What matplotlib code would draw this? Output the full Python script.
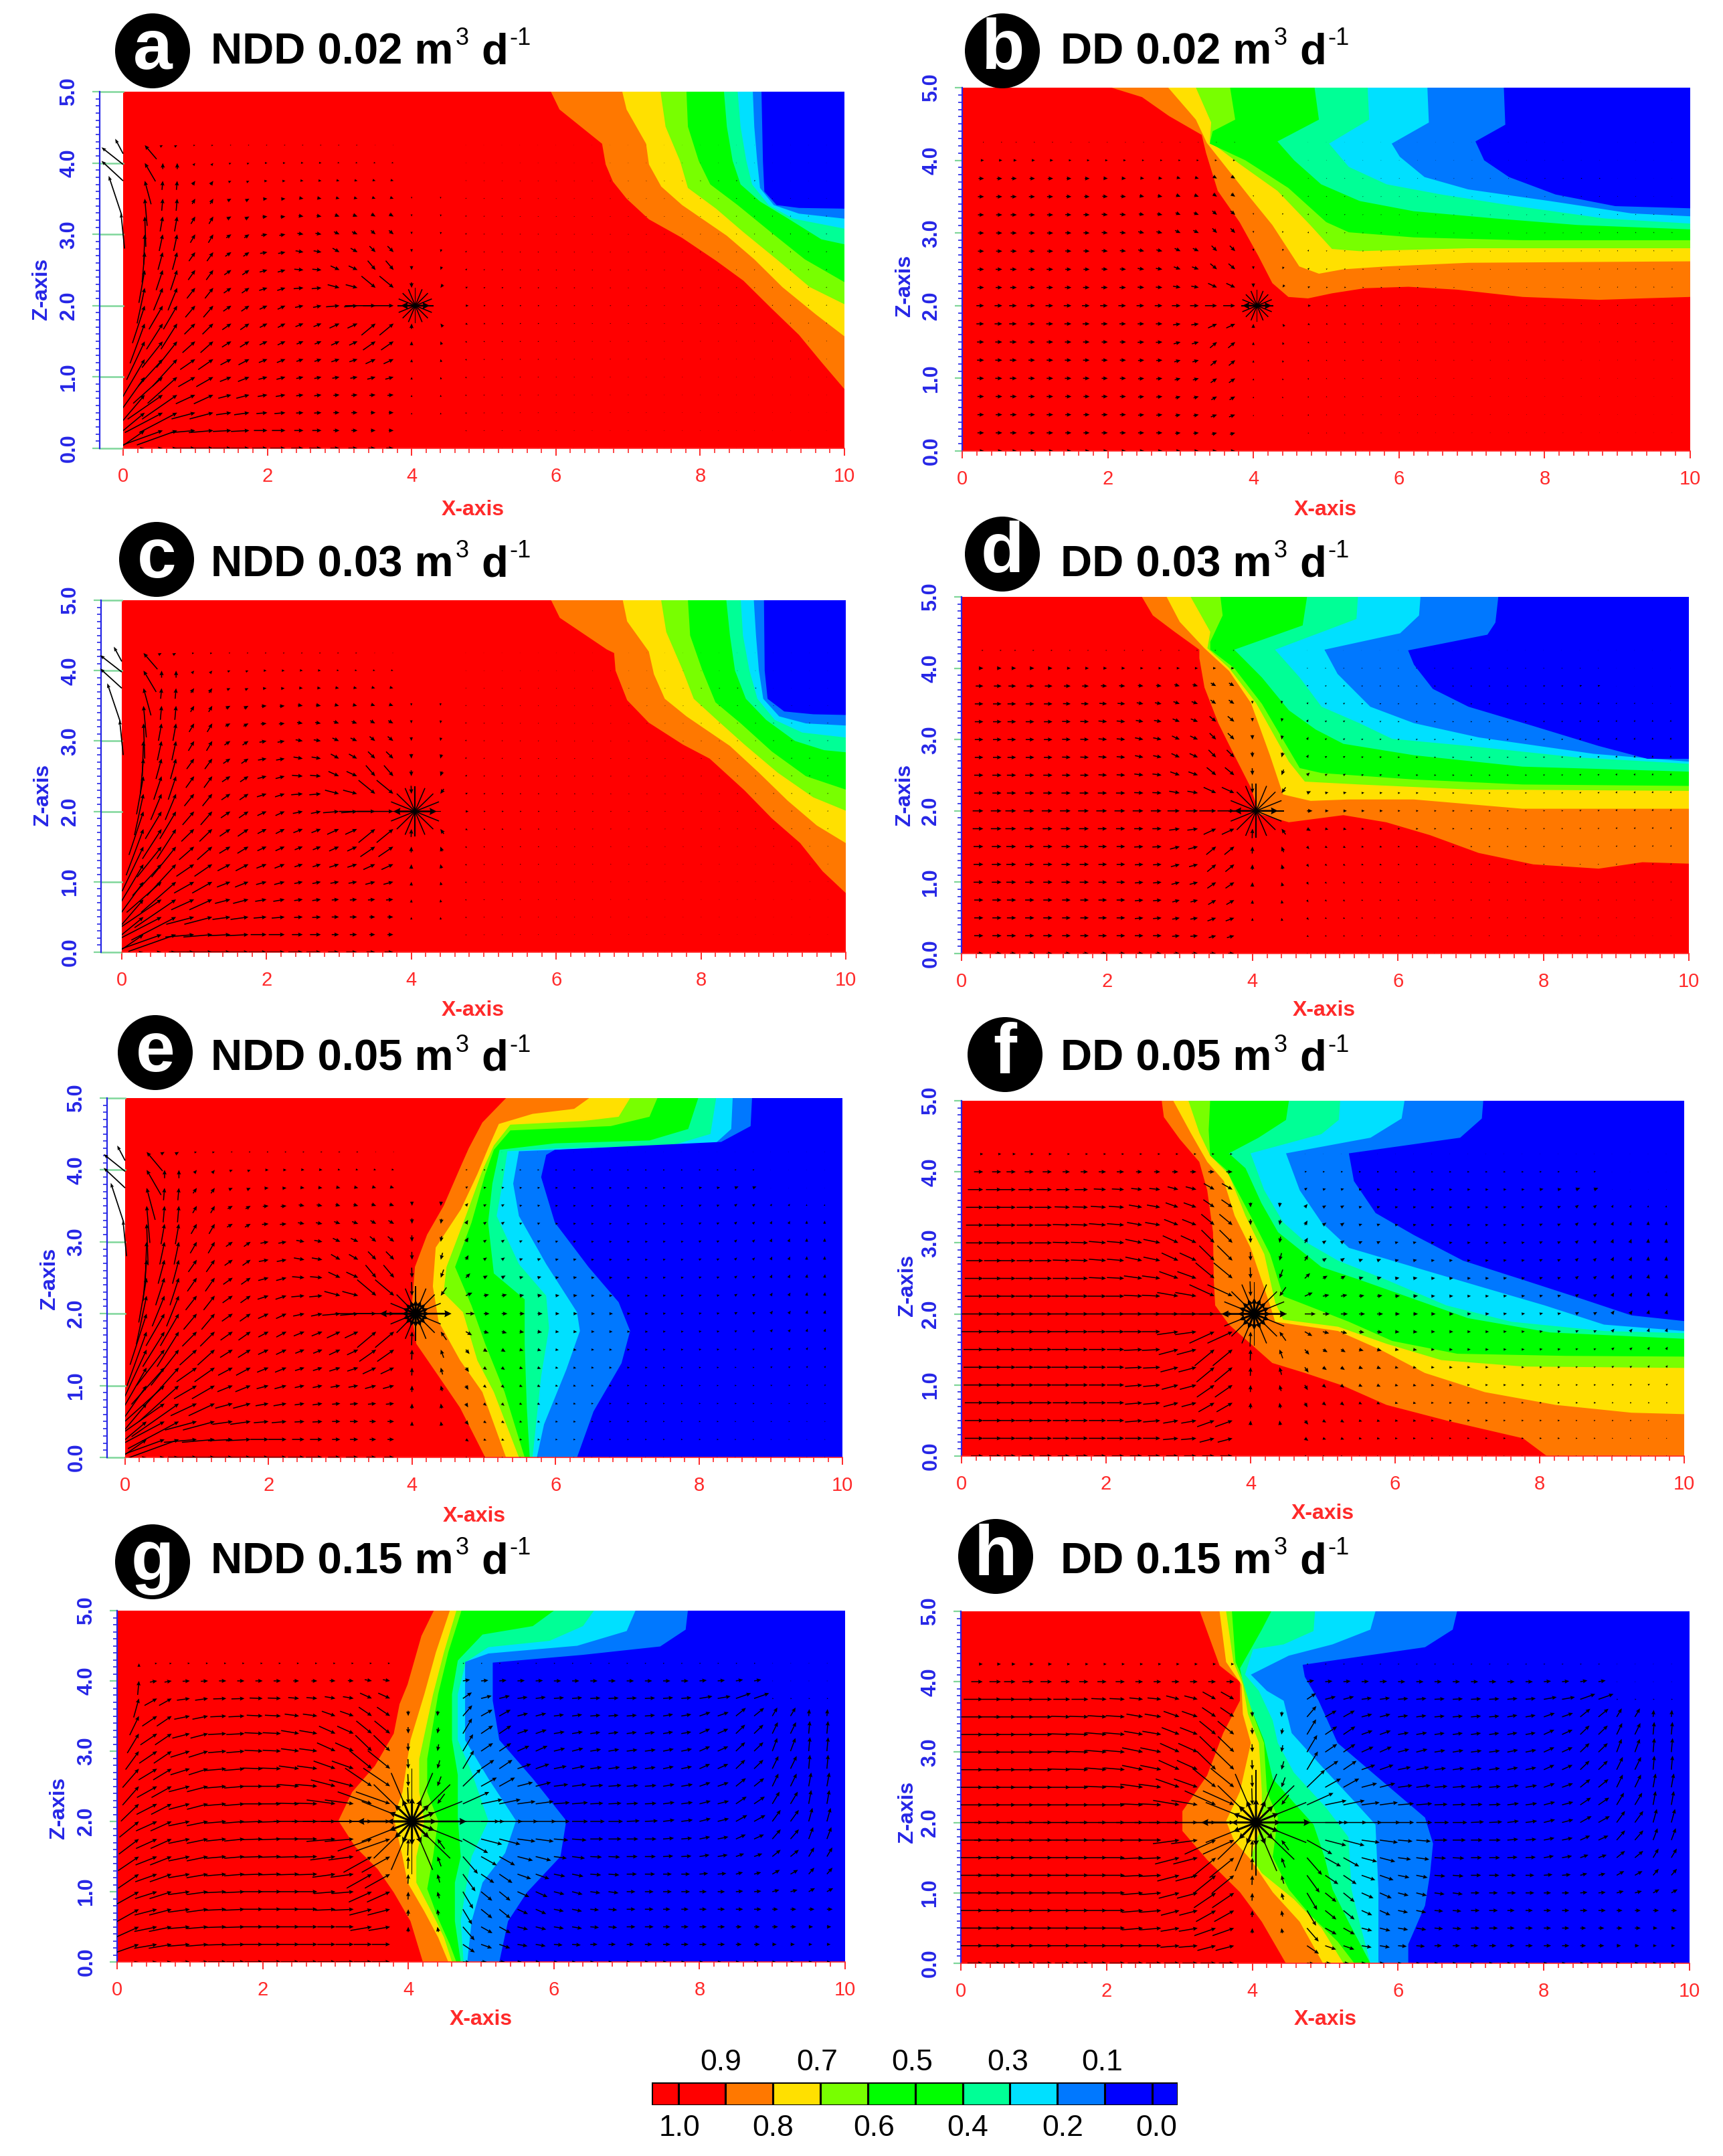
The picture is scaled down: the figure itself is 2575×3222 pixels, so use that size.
#!/usr/bin/env python3

import matplotlib
matplotlib.use('Agg')
import matplotlib.pyplot as plt
import numpy as np
from matplotlib.patches import Circle, Rectangle

plt.rcParams['font.family'] = ['Liberation Sans', 'DejaVu Sans']

# band colours, red (1.0-0.9) down to blue (0.1-0.0); 0.6-0.4 is one green
band_colors = ['#ff7800', '#ffe000', '#78ff00', '#00ff00', '#00ff96', '#00e0ff', '#0078ff', '#0000ff']

# contour lines 0.9 0.8 0.7 0.6 0.4 0.3 0.2 0.1 as (x, z)
contours_a = [
    [(5.93,5),(6.05,4.75),(6.64,4.27),(6.69,3.98),(6.79,3.74),(6.98,3.5),(7.29,3.21),(7.75,2.95),(8.22,2.63),(8.6,2.35),(8.98,1.97),(9.37,1.59),(9.68,1.21),(10,.83)],
    [(6.92,5),(6.98,4.75),(7.25,4.27),(7.29,3.98),(7.46,3.67),(7.75,3.41),(8.37,2.98),(8.75,2.65),(9.14,2.26),(9.6,1.88),(10,1.57)],
    [(7.45,5),(7.52,4.51),(7.72,4.03),(7.83,3.65),(8.22,3.36),(8.6,3.03),(9.06,2.65),(9.52,2.26),(10,2.02)],
    [(7.81,5),(7.83,4.51),(7.98,4.03),(8.14,3.7),(8.52,3.41),(8.98,3.03),(9.45,2.65),(10,2.33)],
    [(8.33,5),(8.37,4.51),(8.45,4.03),(8.56,3.7),(8.83,3.46),(9.22,3.22),(9.68,2.93),(10,2.86)],
    [(8.52,5),(8.56,4.51),(8.64,4.03),(8.72,3.7),(8.95,3.41),(9.29,3.22),(10,3.08)],
    [(8.73,5),(8.75,4.51),(8.79,4.03),(8.83,3.65),(9.02,3.41),(9.37,3.29),(10,3.22)],
    [(8.85,5),(8.87,4.03),(8.89,3.6),(9.06,3.41),(9.37,3.37),(10,3.36)],
]
contours_b = [
    [(2.05,5),(2.47,4.87),(2.84,4.61),(3.29,4.35),(3.35,4.1),(3.51,3.58),(3.81,3.15),(4.07,2.68),(4.26,2.31),(4.48,2.12),(4.75,2.1),(5.08,2.17),(5.53,2.24),(6.13,2.26),(6.8,2.22),(7.7,2.12),(8.75,2.08),(9.34,2.1),(10,2.12)],
    [(2.83,5),(3.21,4.56),(3.36,4.24),(3.66,3.86),(3.96,3.48),(4.26,3.11),(4.63,2.54),(4.9,2.44),(5.23,2.5),(5.83,2.54),(6.95,2.59),(8.45,2.6),(10,2.61)],
    [(3.21,5),(3.42,4.52),(3.4,4.26),(3.81,3.95),(4.33,3.58),(4.78,3.11),(5.08,2.78),(5.46,2.75),(6.95,2.79),(8.45,2.79),(10,2.79)],
    [(3.68,5),(3.75,4.56),(3.44,4.4),(3.4,4.23),(3.89,4.0),(4.48,3.62),(5.0,3.15),(5.31,3.01),(6.2,2.94),(7.7,2.9),(10,2.9)],
    [(4.84,5),(4.9,4.56),(4.33,4.26),(4.56,4.0),(4.93,3.67),(5.46,3.44),(6.2,3.3),(7.32,3.2),(8.45,3.11),(10,3.05)],
    [(5.57,5),(5.59,4.56),(5.04,4.23),(5.31,3.91),(5.83,3.67),(6.58,3.53),(7.47,3.39),(8.82,3.2),(10,3.13)],
    [(6.39,5),(6.41,4.52),(5.9,4.23),(6.01,4.05),(6.35,3.77),(6.95,3.6),(8.07,3.44),(9.19,3.27),(10,3.23)],
    [(7.44,5),(7.46,4.49),(7.05,4.26),(7.17,4.0),(7.51,3.77),(8.15,3.53),(8.97,3.37),(10,3.34)],
]
contours_c = [
    [(5.93,5),(6.05,4.75),(6.7,4.3),(6.8,4.25),(6.82,4.0),(6.98,3.58),(7.28,3.26),(7.75,2.95),(8.12,2.75),(8.6,2.3),(8.98,1.9),(9.37,1.55),(9.68,1.15),(10,.84)],
    [(6.92,5),(6.98,4.7),(7.28,4.27),(7.35,3.95),(7.5,3.6),(7.8,3.35),(8.4,2.93),(8.8,2.55),(9.2,2.15),(9.6,1.8),(10,1.55)],
    [(7.45,5),(7.52,4.55),(7.75,4.0),(7.9,3.6),(8.22,3.3),(8.6,2.95),(9.06,2.55),(9.55,2.2),(10,2.01)],
    [(7.82,5),(7.85,4.5),(8.02,4.0),(8.2,3.55),(8.55,3.25),(8.98,2.85),(9.45,2.5),(10,2.31)],
    [(8.35,5),(8.4,4.5),(8.47,4.0),(8.62,3.6),(8.9,3.3),(9.3,3.0),(9.7,2.87),(10,2.84)],
    [(8.55,5),(8.58,4.5),(8.67,4.0),(8.78,3.6),(9.02,3.3),(9.4,3.12),(10,3.05)],
    [(8.73,5),(8.76,4.5),(8.8,4.0),(8.86,3.6),(9.08,3.35),(9.45,3.25),(10,3.22)],
    [(8.87,5),(8.88,4.0),(8.92,3.6),(9.15,3.42),(9.55,3.38),(10,3.37)],
]
contours_d = [
    [(2.48,5),(2.63,4.74),(2.93,4.51),(3.27,4.26),(3.27,4.14),(3.34,3.73),(3.53,3.23),(3.75,2.78),(3.98,2.32),(4.09,1.96),(4.5,1.84),(5.25,1.94),(5.84,1.84),(6.44,1.66),(7.11,1.41),(7.86,1.25),(8.76,1.19),(9.36,1.28),(10,1.26)],
    [(2.82,5),(3.0,4.65),(3.34,4.28),(3.68,3.96),(3.98,3.51),(4.24,2.78),(4.42,2.23),(4.8,2.14),(5.32,2.16),(6.22,2.16),(7.71,2.03),(10,2.03)],
    [(3.15,5),(3.42,4.51),(3.38,4.28),(3.68,4.0),(4.05,3.51),(4.5,2.69),(4.72,2.41),(5.47,2.37),(6.97,2.3),(10,2.28)],
    [(3.56,5),(3.59,4.74),(3.42,4.37),(3.42,4.26),(3.75,4.0),(4.13,3.5),(4.65,2.6),(4.95,2.53),(6.22,2.44),(7.71,2.37),(10,2.35)],
    [(4.75,5),(4.69,4.6),(3.75,4.26),(4.13,3.87),(4.5,3.41),(4.87,3.14),(5.25,2.94),(6.22,2.78),(7.71,2.62),(10,2.55)],
    [(5.45,5),(5.43,4.69),(4.31,4.26),(4.65,3.87),(4.95,3.46),(5.47,3.23),(5.92,3.01),(6.97,2.91),(8.46,2.75),(10,2.66)],
    [(6.31,5),(6.29,4.74),(6.03,4.49),(4.99,4.26),(5.17,3.92),(5.62,3.46),(6.22,3.23),(7.11,3.03),(8.69,2.8),(10,2.69)],
    [(7.38,5),(7.34,4.64),(7.23,4.47),(6.14,4.25),(6.22,4.05),(6.48,3.71),(6.97,3.46),(7.86,3.19),(8.76,2.91),(9.43,2.73),(10,2.73)],
]
contours_e = [
    [(5.31,5),(4.98,4.66),(4.79,4.3),(4.67,4.03),(4.44,3.5),(4.21,3.1),(4.04,2.65),(3.99,2.02),(4.06,1.58),(4.37,1.13),(4.67,.69),(5.02,0)],
    [(6.47,5),(6.26,4.85),(5.68,4.78),(5.21,4.64),(5.06,4.3),(4.91,3.94),(4.68,3.45),(4.33,2.92),(4.29,2.38),(4.37,1.89),(4.67,1.35),(4.98,.91),(5.31,0)],
    [(7.04,5),(6.88,4.74),(6.38,4.68),(5.37,4.63),(5.14,4.34),(4.98,3.99),(4.75,3.36),(4.48,2.65),(4.44,2.29),(4.71,2.02),(4.91,1.35),(5.14,.91),(5.49,0)],
    [(7.42,5),(7.31,4.74),(6.77,4.61),(5.37,4.55),(5.14,4.28),(5.02,3.94),(4.83,3.27),(4.6,2.65),(4.83,2.11),(5.02,1.58),(5.29,.91),(5.57,0)],
    [(7.99,5),(7.85,4.57),(7.31,4.41),(5.99,4.37),(5.22,4.28),(5.12,3.81),(5.06,3.27),(5.14,2.56),(5.57,2.2),(5.57,1.58),(5.6,.69),(5.64,0)],
    [(8.24,5),(8.16,4.5),(7.62,4.34),(5.99,4.3),(5.33,4.26),(5.26,3.81),(5.18,3.36),(5.49,2.69),(5.87,2.25),(5.91,1.8),(5.8,1.13),(5.68,0)],
    [(8.47,5),(8.45,4.57),(8.24,4.38),(7.54,4.34),(5.99,4.28),(5.49,4.26),(5.41,3.81),(5.49,3.36),(5.87,2.69),(6.3,2.02),(6.34,1.76),(6.15,1.22),(5.84,.46),(5.74,0)],
    [(8.74,5),(8.72,4.61),(8.31,4.39),(5.99,4.28),(5.87,4.21),(5.8,3.9),(5.99,3.27),(6.46,2.65),(6.88,2.16),(7.04,1.76),(6.92,1.31),(6.53,.64),(6.3,0)],
]
contours_f = [
    [(2.77,5),(2.8,4.77),(3.02,4.46),(3.29,4.14),(3.4,3.74),(3.48,3.15),(3.49,2.48),(3.51,2.12),(3.7,1.85),(4.0,1.58),(4.3,1.31),(4.75,1.17),(5.28,.99),(5.88,.72),(6.71,.5),(7.77,.25),(8.1,0)],
    [(2.93,5),(3.17,4.55),(3.4,4.14),(3.63,3.87),(3.78,3.38),(4.0,2.93),(4.27,2.12),(4.34,1.89),(5.21,1.76),(5.81,1.49),(6.41,1.17),(7.24,.9),(8.22,.72),(9.27,.61),(10,.59)],
    [(3.14,5),(3.29,4.55),(3.44,4.23),(3.7,3.96),(3.93,3.38),(4.19,2.84),(4.34,2.16),(4.45,1.92),(5.21,1.82),(5.88,1.58),(6.64,1.35),(7.77,1.26),(10,1.24)],
    [(3.44,5),(3.42,4.59),(3.44,4.23),(3.66,4.03),(4.0,3.38),(4.27,2.84),(4.45,2.25),(4.68,2.16),(5.36,1.89),(5.96,1.62),(6.86,1.44),(8.37,1.41),(10,1.4)],
    [(4.53,5),(4.49,4.73),(4.11,4.48),(3.7,4.26),(3.93,4.05),(4.15,3.56),(4.38,3.15),(4.98,2.66),(5.51,2.48),(6.26,2.21),(7.01,1.94),(8.14,1.74),(10,1.65)],
    [(5.24,5),(5.22,4.73),(4.98,4.53),(4.0,4.26),(4.19,3.74),(4.45,3.29),(4.75,3.02),(5.21,2.75),(5.88,2.48),(6.71,2.12),(7.61,1.89),(8.89,1.76),(10,1.73)],
    [(6.13,5),(6.09,4.75),(5.66,4.48),(4.49,4.26),(4.68,3.74),(4.98,3.29),(5.36,2.93),(6.26,2.66),(7.16,2.39),(8.07,2.12),(8.89,1.85),(10,1.76)],
    [(7.22,5),(7.2,4.75),(6.9,4.48),(5.36,4.26),(5.43,3.87),(5.73,3.42),(6.26,3.11),(6.94,2.75),(7.77,2.48),(8.59,2.21),(9.27,1.98),(10,1.9)],
]
contours_g = [
    [(4.35,5),(4.18,4.64),(3.99,3.95),(3.88,3.67),(3.8,3.25),(3.54,2.79),(3.23,2.42),(3.04,2.01),(3.27,1.64),(3.58,1.32),(3.8,.99),(4.03,.58),(4.2,0)],
    [(4.57,5),(4.38,4.41),(4.22,3.81),(4.03,3.16),(3.92,2.42),(3.8,2.05),(3.92,1.5),(3.99,1.13),(4.22,.72),(4.41,.35),(4.55,0)],
    [(4.66,5),(4.49,4.41),(4.34,3.81),(4.15,2.89),(4.15,2.42),(4.22,2.01),(4.11,1.5),(4.11,1.13),(4.34,.67),(4.49,.35),(4.6,0)],
    [(4.73,5),(4.55,4.41),(4.41,3.81),(4.26,2.89),(4.26,2.42),(4.41,2.01),(4.34,1.5),(4.26,1.04),(4.41,.62),(4.57,.25),(4.66,0)],
    [(6.0,5),(5.71,4.78),(5.02,4.66),(4.68,4.29),(4.6,3.81),(4.6,3.16),(4.68,2.66),(4.68,2.05),(4.72,1.5),(4.64,1.13),(4.64,.58),(4.72,0)],
    [(6.55,5),(6.4,4.78),(5.94,4.57),(5.1,4.48),(4.79,4.27),(4.68,3.81),(4.68,3.16),(4.87,2.7),(5.1,2.01),(4.87,1.5),(4.79,1.04),(4.72,.58),(4.76,0)],
    [(7.12,5),(7.0,4.71),(6.32,4.5),(5.1,4.39),(4.78,4.27),(4.78,3.16),(5.1,2.61),(5.48,2.01),(5.33,1.55),(5.02,1.13),(4.87,.58),(4.81,0)],
    [(7.84,5),(7.81,4.73),(7.46,4.49),(6.39,4.37),(5.16,4.26),(5.16,3.72),(5.25,3.16),(5.71,2.61),(6.17,2.01),(6.09,1.5),(5.63,.99),(5.37,.58),(5.25,0)],
]
contours_h = [
    [(3.28,5),(3.42,4.6),(3.55,4.23),(3.83,4.0),(3.83,3.73),(3.6,3.27),(3.38,2.67),(3.04,2.16),(3.04,1.88),(3.38,1.47),(3.83,1.01),(4.13,.59),(4.46,0)],
    [(3.55,5),(3.64,4.28),(3.85,3.96),(3.87,3.54),(3.98,3.13),(3.83,2.44),(3.64,2.02),(3.75,1.74),(3.98,1.47),(4.28,1.01),(4.65,.59),(4.97,0)],
    [(3.64,5),(3.74,4.28),(3.87,3.96),(3.94,3.54),(4.09,3.13),(4.13,2.44),(4.13,1.97),(3.98,1.51),(4.13,1.28),(4.57,.91),(4.95,.5),(5.25,0)],
    [(3.72,5),(3.77,4.28),(3.9,3.96),(4.01,3.54),(4.16,3.13),(4.2,2.44),(4.35,2.07),(4.28,1.51),(4.5,1.05),(4.8,.68),(5.17,.31),(5.4,0)],
    [(4.26,5),(4.13,4.74),(3.83,4.19),(3.87,4.0),(3.98,3.63),(4.16,3.17),(4.28,2.62),(4.84,1.97),(4.99,1.51),(5.1,1.05),(5.32,.59),(5.62,0)],
    [(4.86,5),(4.84,4.72),(4.43,4.53),(4.01,4.46),(3.9,4.1),(4.09,3.87),(4.28,3.45),(4.35,3.13),(4.57,2.71),(5.02,2.2),(5.32,1.79),(5.36,1.05),(5.47,.59),(5.62,0)],
    [(5.69,5),(5.62,4.74),(5.1,4.53),(4.5,4.37),(3.98,4.1),(4.2,3.87),(4.43,3.73),(4.54,3.27),(4.95,2.8),(5.4,2.3),(5.69,1.97),(5.73,1.05),(5.73,0)],
    [(6.81,5),(6.75,4.74),(6.37,4.49),(4.69,4.24),(4.72,4.07),(4.91,3.73),(5.17,3.13),(5.69,2.67),(6.37,2.07),(6.48,1.7),(6.44,1.28),(6.37,.82),(6.14,.27),(6.14,0)],
]

# arrow rows (z) and columns (x), left and right of the well
arrow_z = [0, .25, .5, .75, 1, 1.25, 1.5, 1.75, 2, 2.25, 2.5, 2.75, 3, 3.25, 3.5, 3.75, 4, 4.25]
left_x = [.3, .75, 1.25, 1.75, 2.25, 2.75, 3.25, 3.75]
left_mid_x = [.55, 1.0, 1.5, 2.0, 2.5, 3.0, 3.5]
right_x = [4.75, 5.25, 5.75, 6.25, 6.75, 7.25, 7.75, 8.25, 8.75, 9.25, 9.75]
right_mid_x = [5.0, 5.5, 6.0, 6.5, 7.0, 7.5, 8.0, 8.5, 9.0, 9.5]

# the columns just under and over the well, at x = 4.0 and 4.4
near_x = [4.0, 4.4]
near_z = [.5, .75, 1, 1.25, 1.5, 1.75, 2.25, 2.5, 2.75, 3, 3.25, 3.5]
near_angle = [
    [88, 100], [88, 100], [88, 105], [88, 105], [88, 110], [88, 125],
    [-88, -125], [-88, -110], [-88, -105], [-88, -100], [-88, -100], [-88, -95],
]
near_len = [
    [.12, .12], [.15, .14], [.18, .16], [.22, .2], [.28, .24], [.38, .28],
    [.38, .28], [.28, .24], [.22, .2], [.18, .16], [.15, .14], [.12, .12],
]

# arrow angle (deg) and length, panels a c e, left part
ndd_angle = [
    [10, 5, 0, 0, 0, 0, 0, 0],
    [35, 20, 5, 3, 0, 0, 0, 0],
    [40, 28, 15, 8, 5, 3, 0, 0],
    [50, 35, 25, 15, 10, 8, 5, 5],
    [55, 42, 30, 22, 15, 12, 10, 15],
    [60, 48, 35, 28, 22, 18, 18, 25],
    [65, 52, 42, 32, 25, 22, 25, 35],
    [70, 58, 45, 35, 28, 22, 25, 40],
    [72, 60, 50, 35, 25, 12, 5, 0],
    [78, 68, 52, 35, 18, 5, -15, -40],
    [80, 72, 55, 35, 15, -5, -25, -50],
    [85, 75, 55, 35, 10, -10, -30, -45],
    [88, 78, 60, 35, 10, -10, -25, -40],
    [92, 80, 60, 30, 5, -10, -20, -30],
    [95, 85, 60, 30, 5, -10, -15, -20],
    [105, 85, 55, 25, 5, -5, -10, -15],
    [120, 90, 50, 20, 0, -5, -10, -10],
    [130, 30, 10, 0, 0, 0, 0, 0],
]
ndd_len = [
    [.3, .4, .35, .3, .25, .2, .15, .12],
    [.6, .7, .4, .3, .22, .15, .1, .08],
    [.7, .7, .4, .25, .18, .12, .1, .08],
    [.75, .7, .35, .22, .16, .12, .1, .1],
    [.75, .65, .32, .2, .15, .12, .12, .14],
    [.75, .6, .3, .2, .15, .12, .14, .18],
    [.7, .55, .28, .18, .14, .12, .15, .25],
    [.7, .5, .25, .18, .14, .14, .18, .3],
    [.65, .45, .25, .16, .14, .14, .22, .5],
    [.6, .4, .22, .15, .14, .16, .2, .3],
    [.55, .35, .2, .14, .13, .15, .16, .2],
    [.5, .3, .18, .12, .12, .13, .13, .14],
    [.5, .28, .16, .1, .1, .1, .1, .1],
    [.5, .25, .14, .08, .08, .08, .08, .08],
    [.45, .2, .1, .07, .07, .07, .06, .06],
    [.4, .15, .08, .05, .05, .05, .05, .05],
    [.35, .1, .05, .04, .04, .04, .03, .03],
    [.3, .05, .03, .02, .02, .02, .02, .01],
]

# panels b d f h, left part
dd_angle = [
    [0, 0, 0, 0, 0, 0, 0, 0],
    [0, 0, 0, 0, 0, 0, 5, 15],
    [0, 0, 0, 0, 0, 5, 10, 20],
    [0, 0, 0, 0, 0, 5, 15, 30],
    [0, 0, 0, 0, 0, 5, 15, 35],
    [0, 0, 0, 0, 0, 3, 15, 40],
    [0, 0, 0, 0, 0, 3, 15, 40],
    [0, 0, 0, 0, 0, 0, 8, 25],
    [0, 0, 0, 0, 0, 0, 0, 0],
    [0, 0, 0, 0, 0, -3, -10, -25],
    [0, 0, 0, 0, -3, -8, -20, -40],
    [0, 0, 0, -2, -5, -12, -25, -45],
    [0, 0, 0, -2, -5, -12, -25, -45],
    [0, 0, 0, -2, -5, -10, -22, -40],
    [0, 0, 0, -2, -4, -10, -20, -35],
    [0, 0, 0, 0, -3, -6, -15, -30],
    [0, 0, 0, 0, 0, 0, 0, 0],
    [0, 0, 0, 0, 0, 0, 0, 0],
]
dd_len = [
    [.2, .2, .2, .2, .2, .2, .2, .2],
    [.3, .3, .3, .28, .28, .28, .25, .25],
    [.3, .3, .3, .28, .28, .28, .25, .3],
    [.3, .3, .3, .28, .28, .28, .25, .3],
    [.32, .32, .3, .3, .28, .28, .28, .35],
    [.32, .32, .3, .3, .28, .28, .3, .38],
    [.32, .32, .3, .3, .28, .3, .33, .42],
    [.35, .35, .32, .32, .3, .3, .35, .45],
    [.35, .35, .35, .35, .35, .35, .4, .55],
    [.3, .3, .3, .3, .3, .3, .35, .45],
    [.3, .3, .3, .28, .28, .3, .33, .4],
    [.28, .28, .28, .28, .28, .28, .3, .35],
    [.28, .28, .28, .28, .28, .28, .28, .3],
    [.28, .28, .28, .28, .28, .25, .25, .28],
    [.28, .28, .28, .25, .25, .22, .22, .22],
    [.25, .25, .25, .22, .2, .18, .18, .2],
    [.15, .15, .15, .12, .12, .1, .1, .1],
    [.05, .05, .05, .04, .04, .04, .04, .04],
]

# panel g, left part
g_angle = [
    [15, 8, 3, 0, 0, 0, 0, 0],
    [20, 10, 5, 2, 0, 0, 0, 0],
    [25, 12, 5, 2, 0, 0, 0, 10],
    [30, 15, 8, 3, 0, 0, 3, 15],
    [30, 18, 8, 3, 0, 0, 5, 25],
    [35, 20, 10, 5, 2, 2, 8, 30],
    [35, 22, 12, 5, 2, 2, 8, 30],
    [38, 25, 12, 6, 2, 0, 5, 20],
    [40, 25, 12, 5, 2, 0, 0, 0],
    [45, 28, 15, 5, 0, -2, -8, -20],
    [50, 30, 15, 5, 0, -5, -15, -35],
    [50, 32, 18, 5, -2, -8, -20, -40],
    [55, 35, 18, 5, -3, -8, -25, -45],
    [60, 35, 15, 3, -3, -10, -25, -40],
    [65, 35, 12, 3, -3, -8, -20, -35],
    [75, 30, 8, 2, -2, -5, -10, -25],
    [85, 10, 3, 0, 0, 0, -3, -10],
    [90, 5, 0, 0, 0, 0, 0, 0],
]
g_len = [
    [.3, .3, .28, .25, .25, .25, .25, .25],
    [.35, .32, .3, .28, .28, .28, .25, .25],
    [.35, .32, .3, .28, .28, .28, .25, .3],
    [.35, .32, .3, .28, .28, .28, .28, .32],
    [.35, .32, .3, .28, .28, .28, .3, .35],
    [.35, .32, .3, .28, .28, .28, .32, .4],
    [.35, .32, .3, .28, .28, .3, .35, .45],
    [.35, .32, .3, .28, .3, .32, .4, .5],
    [.35, .32, .3, .3, .32, .35, .45, .6],
    [.35, .32, .3, .28, .3, .32, .4, .5],
    [.35, .32, .3, .28, .28, .3, .35, .45],
    [.35, .3, .28, .28, .28, .28, .32, .4],
    [.32, .3, .28, .25, .25, .25, .28, .32],
    [.32, .28, .25, .25, .25, .25, .25, .28],
    [.3, .25, .22, .22, .22, .2, .2, .22],
    [.28, .2, .18, .18, .18, .15, .15, .18],
    [.2, .1, .1, .1, .1, .08, .08, .1],
    [.05, .03, .03, .03, .03, .03, .03, .03],
]

# right part, all panels (strength set per panel below)
right_angle = [
    [-5, 0, 0, 0, 0, 0, 0, 0, 0, 0, 0],
    [-35, -20, -10, -5, 0, 0, 0, 0, 0, 0, 0],
    [-50, -30, -15, -10, -5, 0, 0, 0, 0, 0, 0],
    [-60, -40, -25, -12, -5, 0, 0, 0, 0, 0, 0],
    [-60, -40, -25, -15, -8, 0, 0, 0, 5, 15, 30],
    [-55, -35, -20, -12, -5, 0, 0, 5, 15, 30, 50],
    [-50, -30, -15, -8, -3, 0, 3, 10, 20, 40, 60],
    [-30, -15, -8, -5, 0, 0, 5, 12, 25, 50, 70],
    [0, 0, 0, 0, 0, 3, 8, 15, 30, 55, 75],
    [25, 12, 8, 5, 3, 3, 8, 15, 35, 60, 80],
    [45, 30, 15, 8, 5, 5, 10, 20, 40, 65, 80],
    [60, 35, 20, 12, 8, 8, 12, 25, 45, 65, 85],
    [60, 35, 25, 15, 10, 8, 12, 25, 45, 70, 85],
    [60, 35, 20, 10, 8, 8, 10, 25, 45, 65, 85],
    [50, 30, 15, 8, 5, 5, 10, 20, 40, 60, 85],
    [35, 15, 8, 5, 3, 3, 5, 10, 20, 0, 0],
    [10, 5, 3, 0, 0, 0, 0, 5, 10, 0, 0],
    [0, 0, 0, 0, 0, 0, 0, 0, 0, 0, 0],
]
right_len = [
    [.1, .08, .06, .05, .05, .05, .05, .05, .05, .05, .05],
    [.2, .16, .14, .12, .1, .1, .1, .1, .08, .06, .05],
    [.25, .18, .15, .14, .12, .12, .1, .1, .08, .08, .06],
    [.25, .2, .16, .14, .12, .12, .1, .1, .1, .08, .08],
    [.28, .2, .18, .15, .14, .12, .12, .1, .1, .1, .1],
    [.3, .22, .2, .16, .15, .14, .12, .12, .1, .12, .12],
    [.32, .25, .22, .18, .16, .15, .14, .14, .12, .15, .15],
    [.4, .3, .25, .2, .18, .16, .15, .15, .15, .18, .18],
    [.5, .32, .28, .22, .2, .18, .16, .16, .18, .2, .2],
    [.4, .3, .25, .22, .18, .16, .16, .16, .18, .2, .2],
    [.35, .25, .22, .2, .18, .16, .16, .16, .18, .2, .2],
    [.3, .22, .2, .18, .16, .15, .15, .16, .18, .2, .2],
    [.28, .2, .18, .16, .15, .15, .15, .16, .18, .2, .2],
    [.25, .2, .16, .15, .14, .14, .14, .16, .18, .18, .18],
    [.2, .18, .15, .14, .14, .14, .14, .16, .18, .14, .1],
    [.15, .15, .14, .14, .14, .14, .14, .18, .22, .02, .02],
    [.1, .1, .1, .1, .1, .1, .1, .1, .1, .01, .01],
    [.02, .02, .02, .02, .02, .02, .02, .02, .02, .01, .01],
]

# lines running into the well, tail end direction
spoke_u = [1, .92, .7, .38, 0, -.38, -.7, -.92, -1, -.92, -.7, -.38, 0, .38, .7, .92]
spoke_w = [0, .38, .7, .92, 1, .92, .7, .38, 0, -.38, -.7, -.92, -1, -.92, -.7, -.38]
well_x = 4.05
well_z = 2.0

# the curved flow lines left of x=0 in a, c, e
edge_x = [0, 0, -.02, 0, .02]
edge_z = [3.98, 3.75, 3.27, 4.13, 2.8]
edge_u = [-.3, -.3, -.18, -.11, -.05]
edge_w = [.24, .28, .55, .21, .5]

panel_letters = ['a', 'b', 'c', 'd', 'e', 'f', 'g', 'h']
panel_titles = ['NDD 0.02 m', 'DD 0.02 m', 'NDD 0.03 m', 'DD 0.03 m', 'NDD 0.05 m', 'DD 0.05 m', 'NDD 0.15 m', 'DD 0.15 m']
panel_contours = [contours_a, contours_b, contours_c, contours_d, contours_e, contours_f, contours_g, contours_h]
panel_left_angle = [ndd_angle, dd_angle, ndd_angle, dd_angle, ndd_angle, dd_angle, g_angle, dd_angle]
panel_left_len = [ndd_len, dd_len, ndd_len, dd_len, ndd_len, dd_len, g_len, dd_len]
left_strength = [.85, .3, 1.0, .42, 1.15, .85, 1.0, 1.05]
right_strength = [.08, .08, .08, .15, .25, .3, 1.0, 1.0]
near_strength = [.2, .15, .3, .35, .5, .55, .62, .62]
well_strength = [.25, .22, .36, .38, .38, .45, .75, .75]
well_inner = [0, 0, 0, 0, .5, .5, .45, .45]
well_bar = [.2, .2, .3, .3, .5, .45, .75, .75]

# pixel layout of each panel: x=0, x=10, z=5, z=0, left axis line
panel_x0 = [184, 1438, 182, 1437, 187, 1437, 175, 1436]
panel_x10 = [1262, 2526, 1264, 2524, 1259, 2517, 1263, 2525]
panel_top = [137, 131, 897, 892, 1641, 1645, 2407, 2408]
panel_bottom = [670, 674, 1423, 1425, 2178, 2176, 2932, 2934]
panel_axis = [149, 1438, 151, 1437, 160, 1437, 175, 1436]
badge_x = [228, 1498, 234, 1498, 232, 1502, 228, 1488]
badge_y = [76, 76, 836, 828, 1573, 1576, 2334, 2326]
title_x = [315, 1585, 315, 1585, 315, 1585, 315, 1585]
title_y = [95, 95, 861, 861, 1600, 1600, 2351, 2351]
xlabel_x = [707, 1981, 707, 1979, 709, 1977, 719, 1981]
xlabel_y = [762, 762, 1510, 1510, 2266, 2262, 3018, 3018]
zlabel_x = [62, 1352, 64, 1352, 74, 1356, 88, 1356]
zlabel_y = [432, 427, 1188, 1188, 1911, 1921, 2702, 2708]

# colour bar
bar_edges = [1.056, 1.0, .9, .8, .7, .6, .5, .4, .3, .2, .1, 0, -.054]
bar_colors = ['#ff0000', '#ff0000', '#ff7800', '#ffe000', '#78ff00', '#00ff00',
              '#00ff00', '#00ff96', '#00e0ff', '#0078ff', '#0000ff', '#0000ff']
bar_top_labels = ['0.9', '0.7', '0.5', '0.3', '0.1']
bar_top_x = [1077, 1221, 1363, 1506, 1647]
bar_low_labels = ['1.0', '0.8', '0.6', '0.4', '0.2', '0.0']
bar_low_x = [1016, 1155, 1306, 1446, 1588, 1728]

W, H = 2575, 3222
BLUE = '#2626e6'
RED = '#ff2a2a'
GREEN = '#7fd69a'


def draw_arrows(ax, xs, zs, angle, length, strength, **kw):
    X, Z = np.meshgrid(xs, zs)
    a = np.deg2rad(angle)
    l = length * strength
    q = ax.quiver(X, Z, l * np.cos(a), l * np.sin(a), angles='xy', scale_units='xy', scale=1,
                  color='black', width=0.0014, headwidth=4, headlength=4.5, headaxislength=4,
                  minlength=0.3, zorder=3, **kw)
    q.set_clip_path(Rectangle((0, 0), 10, 5, transform=ax.transData))


def title_piece(x, y, text, size, weight):
    t = page.text(x, y, text, fontsize=size, fontweight=weight, ha='left', va='baseline')
    return t.get_window_extent(renderer).x1


def draw_panel(i):
    x0, x10 = panel_x0[i], panel_x10[i]
    px = (x10 - x0) / 10.0
    left = panel_axis[i]
    ax = fig.add_axes([left / W, 1 - panel_bottom[i] / H, (x10 - left) / W, (panel_bottom[i] - panel_top[i]) / H])
    ax.set_xlim(-(x0 - left) / px, 10)
    ax.set_ylim(0, 5)

    ax.fill([0, 10, 10, 0], [0, 0, 5, 5], color='#ff0000', lw=0, zorder=1)
    for contour, color in zip(panel_contours[i], band_colors):
        xs = [p[0] for p in contour]
        zs = [p[1] for p in contour]
        if zs[-1] == 0:
            xs.append(10)
            zs.append(0)
        xs.append(10)
        zs.append(5)
        ax.fill(xs, zs, color=color, lw=0, zorder=2)

    la = np.array(panel_left_angle[i], dtype=float)
    ll = np.array(panel_left_len[i], dtype=float)
    ra = np.array(right_angle, dtype=float)
    rl = np.array(right_len, dtype=float)
    draw_arrows(ax, left_x, arrow_z, la, ll, left_strength[i], pivot='tip')
    draw_arrows(ax, left_mid_x, arrow_z, la[:, 1:], ll[:, 1:], left_strength[i], pivot='tip')
    draw_arrows(ax, right_x, arrow_z, ra, rl, right_strength[i], pivot='tail')
    draw_arrows(ax, right_mid_x, arrow_z, ra[:, 1:], rl[:, 1:], right_strength[i], pivot='tail')
    draw_arrows(ax, near_x, near_z, np.array(near_angle, dtype=float), np.array(near_len, dtype=float),
                near_strength[i], pivot='tip')

    s = well_strength[i]
    n = len(spoke_u)
    ax.quiver([well_x] * n, [well_z] * n, np.array(spoke_u) * s, np.array(spoke_w) * s,
              angles='xy', scale_units='xy', scale=1, color='black', width=0.0014,
              headwidth=1, headlength=0, headaxislength=0, zorder=4)
    if well_inner[i] > 0:
        r = s * well_inner[i]
        ax.quiver([well_x] * n, [well_z] * n, np.array(spoke_u) * r, np.array(spoke_w) * r,
                  angles='xy', scale_units='xy', scale=1, color='black', width=0.0028,
                  headwidth=3, headlength=3, headaxislength=2.6, zorder=4)
    b = well_bar[i]
    ax.quiver([well_x, well_x], [well_z, well_z], [b, -b], [0, 0], angles='xy', scale_units='xy', scale=1,
              color='black', width=0.0024, headwidth=4, headlength=4, headaxislength=3.6, zorder=4)
    if panel_left_angle[i] is ndd_angle:
        ax.quiver(edge_x, edge_z, edge_u, edge_w, angles='xy', scale_units='xy', scale=1, color='black',
                  width=0.0016, headwidth=3, headlength=4, headaxislength=3.5, zorder=4, clip_on=False)

    for side in ['top', 'right']:
        ax.spines[side].set_visible(False)
    ax.spines['left'].set_color(BLUE)
    ax.spines['left'].set_linewidth(1.6)
    ax.spines['bottom'].set_color(RED)
    ax.spines['bottom'].set_linewidth(1.2)
    ax.spines['bottom'].set_bounds(0, 10)
    ax.patch.set_visible(False)

    ax.set_xticks([0, 2, 4, 6, 8, 10])
    ax.set_xticks(np.arange(0, 10.01, 0.2), minor=True)
    ax.set_yticks([0, 1, 2, 3, 4, 5])
    ax.set_yticklabels(['0.0', '1.0', '2.0', '3.0', '4.0', '5.0'], rotation=90, va='center',
                       fontsize=22, fontweight='bold', color=BLUE)
    ax.set_yticks(np.arange(0, 5.01, 0.1), minor=True)
    ax.tick_params(axis='x', which='major', colors=RED, labelsize=21, length=8, width=1.4, pad=12)
    ax.tick_params(axis='x', which='minor', colors=RED, length=5, width=1.2)
    ax.tick_params(axis='y', which='major', color=GREEN, length=8, width=1.6, pad=14)
    ax.tick_params(axis='y', which='minor', color=BLUE, length=4, width=1.2)
    if left != x0:
        # the green ticks run from the axis line in to x=0
        for z in [0, 1, 2, 3, 4, 5]:
            ax.plot([ax.get_xlim()[0], 0], [z, z], color=GREEN, lw=1.8, zorder=2, clip_on=False)

    page.add_patch(Circle((badge_x[i], badge_y[i]), 56, color='black', lw=0))
    page.text(badge_x[i], badge_y[i], panel_letters[i], color='white', fontsize=76, fontweight='bold',
              ha='center', va='center')

    y = title_y[i]
    end = title_piece(title_x[i], y, panel_titles[i], 47, 'bold')
    end = title_piece(end + 3, y - 28, '3', 26, 'normal')
    end = title_piece(end + 19, y, 'd', 47, 'bold')
    title_piece(end + 2, y - 28, '-1', 26, 'normal')

    page.text(xlabel_x[i], xlabel_y[i], 'X-axis', color=RED, fontsize=23, fontweight='bold', ha='center', va='center')
    page.text(zlabel_x[i], zlabel_y[i], 'Z-axis', color=BLUE, fontsize=23, fontweight='bold', ha='center', va='center',
              rotation=90)


fig = plt.figure(figsize=(W / 100.0, H / 100.0), dpi=100)
renderer = fig.canvas.get_renderer()
page = fig.add_axes([0, 0, 1, 1], zorder=10)
page.set_xlim(0, W)
page.set_ylim(H, 0)
page.axis('off')

for i in range(8):
    draw_panel(i)

cb = fig.add_axes([974 / W, 1 - 3146 / H, (1760 - 974) / W, 34 / H])
for j, color in enumerate(bar_colors):
    cb.bar(bar_edges[j], 1, width=bar_edges[j + 1] - bar_edges[j], align='edge', color=color,
           edgecolor='black', linewidth=2.2)
cb.set_xlim(bar_edges[0], bar_edges[-1])
cb.set_ylim(0, 1)
cb.axis('off')
for label, x in zip(bar_top_labels, bar_top_x):
    page.text(x, 3082, label, fontsize=32, ha='center', va='center')
for label, x in zip(bar_low_labels, bar_low_x):
    page.text(x, 3180, label, fontsize=32, ha='center', va='center')

plt.savefig('out.png', dpi=100)
